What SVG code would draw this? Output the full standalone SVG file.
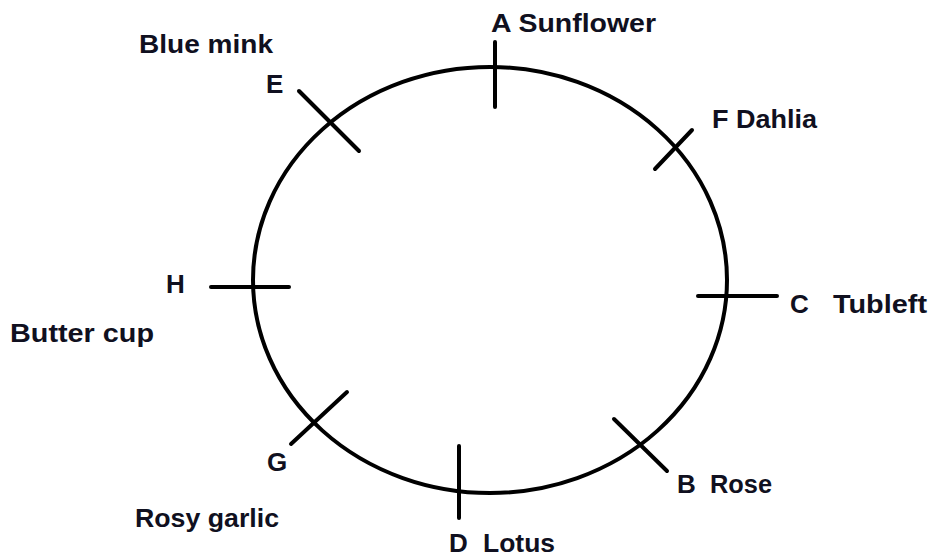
<svg xmlns="http://www.w3.org/2000/svg" width="930" height="558" viewBox="0 0 930 558">
<style>
.ln{stroke:#000;stroke-width:4;fill:none;stroke-linecap:round}
.t{font-family:"Liberation Sans",Arial,sans-serif;font-weight:bold;font-size:26px;fill:#101020}
</style>
<rect width="930" height="558" fill="#fff"/>
<g id="circle">
<ellipse class="ln" cx="490" cy="280" rx="237" ry="213"/>
</g>
<g id="connectors">
<line class="ln" x1="495" y1="42" x2="495" y2="107"/>
<line class="ln" x1="692" y1="130" x2="655" y2="169"/>
<line class="ln" x1="698" y1="296" x2="777" y2="296"/>
<line class="ln" x1="614" y1="419" x2="667" y2="471"/>
<line class="ln" x1="459" y1="446" x2="459" y2="518"/>
<line class="ln" x1="347" y1="392" x2="291" y2="444"/>
<line class="ln" x1="211" y1="287" x2="289" y2="287"/>
<line class="ln" x1="299" y1="91" x2="359" y2="151"/>
</g>
<g id="node-A"><text class="t" x="491" y="32" textLength="165" lengthAdjust="spacingAndGlyphs">A Sunflower</text></g>
<g id="node-F"><text class="t" x="712" y="128" textLength="105" lengthAdjust="spacingAndGlyphs">F Dahlia</text></g>
<g id="node-C"><text class="t" y="313"><tspan x="790">C</tspan><tspan x="833" textLength="94" lengthAdjust="spacingAndGlyphs">Tubleft</tspan></text></g>
<g id="node-B"><text class="t" y="493"><tspan x="677">B</tspan><tspan x="710" textLength="62" lengthAdjust="spacingAndGlyphs">Rose</tspan></text></g>
<g id="node-D"><text class="t" y="552"><tspan x="449">D</tspan><tspan x="483" textLength="72" lengthAdjust="spacingAndGlyphs">Lotus</tspan></text></g>
<g id="node-G"><text class="t" x="267" y="471">G</text><text class="t" x="135" y="527" textLength="144" lengthAdjust="spacingAndGlyphs">Rosy garlic</text></g>
<g id="node-H"><text class="t" x="166" y="293">H</text><text class="t" x="10" y="342" textLength="144" lengthAdjust="spacingAndGlyphs">Butter cup</text></g>
<g id="node-E"><text class="t" x="266" y="93">E</text><text class="t" x="139" y="53" textLength="134" lengthAdjust="spacingAndGlyphs">Blue mink</text></g>
</svg>
